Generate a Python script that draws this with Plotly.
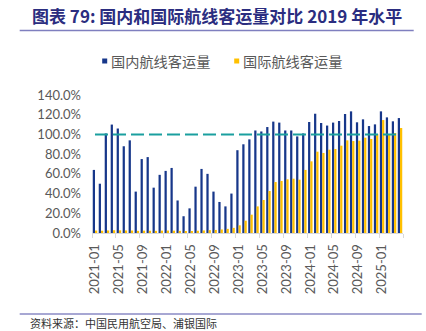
import plotly.graph_objects as go

months = [f"{y}-{m:02d}" for y in range(2021, 2026) for m in range(1, 13)][:52]

domestic = [64, 50, 101, 110, 106, 88, 94, 42, 75, 77, 46, 59,
            63, 66, 33, 17, 25, 47, 65, 60, 42, 31.5, 27, 40,
            84, 90, 95, 104, 103, 107.5, 113, 112, 104, 104, 98, 101,
            112.6, 121, 111.6, 109, 112, 113.6, 120.7, 123.4, 112.3, 115.3, 108.5, 110.2,
            123.4, 117.3, 113.3, 116.6]
international = [2.5, 2.3, 2.6, 2.8, 2.7, 2.6, 2.5, 2.2, 2.4, 2.3, 2.2, 2.4,
                 2.5, 2.4, 2.2, 1.8, 2.0, 2.3, 2.6, 2.9, 3.1, 3.6, 4.2, 5.2,
                 7.8, 12.5, 18.6, 27, 33.5, 42.6, 51.7, 52.8, 54.5, 55.1, 54.1, 64,
                 72.7, 82.5, 81.2, 84.5, 85.2, 88.6, 94, 93.3, 93.7, 96.7, 95.4, 100.4,
                 114.6, 100.4, 101.4, 106.5]
baseline = [100] * len(months)

series_names = ["国内航线客运量", "国际航线客运量"]
title_text = "图表 79: 国内和国际航线客运量对比 2019 年水平"
source_text = "资料来源：中国民用航空局、浦银国际"

BLUE = "#17378a"
GOLD = "#FFC000"
TEAL = "#1a9f9f"
GRAY = "#595959"

W, H = 426, 331
L, R, T, B = 92.3, 403.3, 95, 233


def px(x):
    return (x - L) / (R - L)


def py(y):
    return (B - y) / (B - T)


fig = go.Figure()
fig.add_trace(go.Bar(x=months, y=domestic, name=series_names[0],
                     marker=dict(color=BLUE, line=dict(width=0))))
fig.add_trace(go.Bar(x=months, y=international, name=series_names[1],
                     marker=dict(color=GOLD, line=dict(width=0))))
fig.add_trace(go.Scatter(x=months, y=baseline, mode="lines", showlegend=False,
                         line=dict(color=TEAL, width=2, dash="13px,5px")))

shapes = [
    dict(type="line", xref="paper", yref="paper", x0=px(20), x1=px(414), y0=py(30.5), y1=py(30.5),
         line=dict(color="#7f7fbf", width=1.5)),
    dict(type="line", xref="paper", yref="paper", x0=px(20), x1=px(422), y0=py(314), y1=py(314),
         line=dict(color="#8a8ac4", width=1.5)),
    dict(type="rect", xref="paper", yref="paper", x0=px(102.5), x1=px(107.5), y0=py(63.5), y1=py(58.5),
         fillcolor=BLUE, line=dict(width=0)),
    dict(type="rect", xref="paper", yref="paper", x0=px(234.5), x1=px(239.5), y0=py(63.5), y1=py(58.5),
         fillcolor=GOLD, line=dict(width=0)),
]

annotations = [
    dict(text=f"<b>{title_text}</b>", xref="paper", yref="paper", x=px(30), y=py(15.5),
         xanchor="left", yanchor="middle", showarrow=False,
         font=dict(family="Noto Sans CJK SC", size=17, color="#2b2d80")),
    dict(text=series_names[0], xref="paper", yref="paper", x=px(109), y=py(61),
         xanchor="left", yanchor="middle", showarrow=False,
         font=dict(family="Noto Sans CJK SC", size=14.2, color=GRAY)),
    dict(text=series_names[1], xref="paper", yref="paper", x=px(241), y=py(61),
         xanchor="left", yanchor="middle", showarrow=False,
         font=dict(family="Noto Sans CJK SC", size=14.2, color=GRAY)),
    dict(text=source_text, xref="paper", yref="paper", x=px(28), y=py(322.5),
         xanchor="left", yanchor="middle", showarrow=False,
         font=dict(family="Noto Sans CJK SC", size=11, color="#333333")),
]

fig.update_layout(
    width=W, height=H,
    margin=dict(l=L, r=W - R, t=T, b=H - B, pad=0),
    paper_bgcolor="white", plot_bgcolor="white",
    barmode="group", bargap=0.25, bargroupgap=0,
    showlegend=False,
    shapes=shapes, annotations=annotations,
    font=dict(family="Lato", color=GRAY),
)
fig.update_xaxes(type="category", tickmode="linear", tick0=0, dtick=4,
                 tickangle=-90, tickson="boundaries", ticks="outside", ticklen=4,
                 tickcolor="#d9d9d9", showline=True, linecolor="#d9d9d9", linewidth=1,
                 showgrid=False, ticklabelstandoff=5,
                 tickfont=dict(family="Lato", size=13, color=GRAY))
fig.update_yaxes(range=[0, 140], tickmode="linear", tick0=0, dtick=20,
                 tickformat=".1f", ticksuffix="%", showgrid=False, zeroline=False,
                 showline=False, ticks="", ticklabelstandoff=10,
                 tickfont=dict(family="Lato", size=13, color=GRAY))

fig.write_html("out.html")
